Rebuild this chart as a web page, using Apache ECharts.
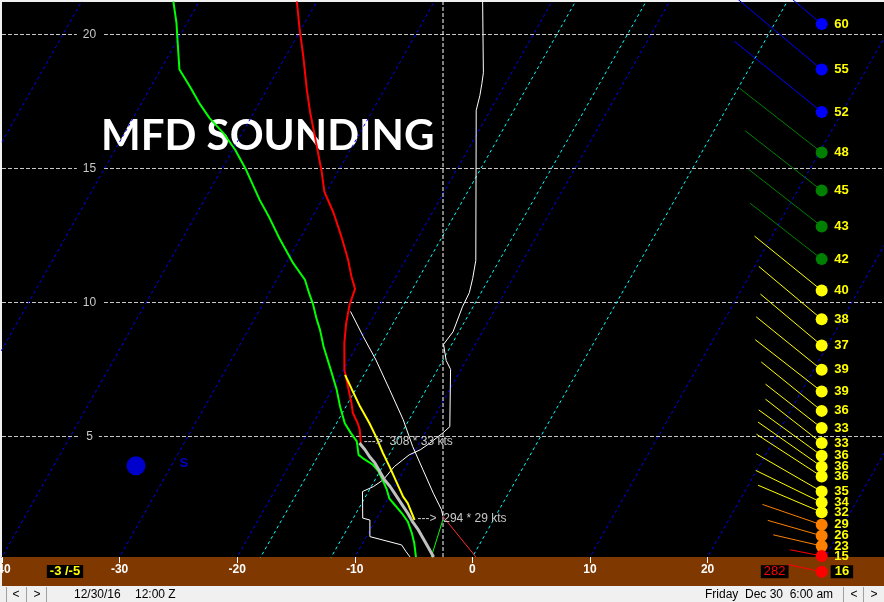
<!DOCTYPE html>
<html><head><meta charset="utf-8">
<script src="https://cdn.jsdelivr.net/npm/echarts@6/dist/echarts.min.js"></script>
<style>html,body{margin:0;padding:0;background:#f0f0f0;overflow:hidden}#c{width:884px;height:602px}</style>
</head><body><div id="c"></div>
<script>
// ---------------- data (T in °C, height in kft) ----------------
const xTickValues = [-40, -30, -20, -10, 0, 10, 20, 30];
const heightTicks = [5, 10, 15, 20];
const isothermsBlue = [-60, -50, -40, -30, -20, -10, 10, 20, 30];
const isothermsCyan = [-18, -12, 0];
const refLineX = -2.5;

const temperature = [[-41.7,21.22],[-40.1,20.17],[-38.5,19.17],[-36.6,17.93],[-35.2,17.07],[-34.1,16.44],[-32.8,15.69],[-31.4,14.88],[-30.2,14.13],[-28.4,13.34],[-26.6,12.46],[-24.9,11.59],[-23.8,10.96],[-22.9,10.50],[-22.6,9.91],[-22.0,9.22],[-21.2,8.48],[-19.9,7.48],[-18.8,6.86],[-17.7,6.24],[-17.1,5.87],[-16.2,5.49],[-15.7,5.24],[-15.0,4.76]];
const lowTemperature = [[-15.1,4.75],[-14.3,4.50],[-13.6,4.25],[-12.8,4.00],[-12.0,3.69],[-11.2,3.38],[-10.4,3.13],[-9.7,2.88],[-9.0,2.63],[-8.3,2.38],[-7.6,2.13],[-6.8,1.82],[-5.9,1.51],[-5.1,1.20],[-4.3,0.89],[-3.3,0.50]];
const yellowTrace = [[-19.6,7.29],[-18.3,6.74],[-16.8,6.11],[-15.2,5.49],[-14.0,4.99],[-12.6,4.37],[-11.4,3.87],[-10.1,3.31],[-8.8,2.75],[-8.1,2.51],[-6.7,1.88]];
const dewpoint = [[-52.2,21.22],[-50.9,20.42],[-50.0,19.79],[-48.4,18.68],[-46.7,18.05],[-45.1,17.43],[-43.5,16.87],[-41.6,16.31],[-39.8,15.69],[-37.9,14.94],[-35.3,13.82],[-33.6,13.15],[-31.8,12.40],[-29.4,11.46],[-27.6,10.84],[-26.6,10.34],[-25.7,9.91],[-24.8,9.42],[-23.9,8.97],[-22.8,8.35],[-21.3,7.60],[-19.6,6.74],[-18.5,6.11],[-17.3,5.49],[-16.3,5.12],[-15.4,4.81],[-15.2,4.75],[-14.6,4.31],[-14.1,4.19],[-12.9,3.94],[-12.1,3.69],[-11.2,3.31],[-10.5,3.00],[-9.9,2.69],[-9.1,2.44],[-8.1,2.13],[-7.2,1.82],[-6.3,1.39],[-5.6,1.01],[-4.8,0.50]];
const whiteTraceA = [[-25.9,21.22],[-22.4,18.56],[-22.0,18.15],[-21.6,17.71],[-21.2,17.16],[-14.0,11.56],[-13.4,10.89],[-13.0,10.36],[-12.9,9.83],[-12.5,8.90],[-12.7,8.43],[-11.7,7.83],[-10.9,7.50],[-8.2,5.36],[-8.5,5.12],[-9.1,4.75],[-9.6,4.50],[-10.3,4.31],[-10.6,4.12],[-11.0,3.87],[-11.3,3.38],[-11.8,3.13],[-12.5,2.94],[-11.2,1.95],[-10.5,1.88],[-9.7,1.26],[-6.6,0.95],[-5.9,0.70],[-5.3,0.50]];
const whiteTraceB = [[-22.2,9.66],[-19.9,8.72],[-17.7,7.85],[-15.1,6.74],[-12.5,5.62],[-10.4,4.62],[-8.4,3.75],[-6.4,2.88],[-4.9,2.26],[-4.45,2.01]];
const sfcLayerT = [[-4.45,2.01],[0.3,0.50]];
const sfcLayerTd = [[-4.3,1.88],[-3.5,0.50]];

const windHeights = [20.38,18.68,17.10,15.59,14.17,12.83,11.61,10.44,9.37,8.39,7.48,6.67,5.95,5.31,4.75,4.28,3.87,3.50,2.94,2.53,2.17,1.70,1.29,0.91,0.54,-0.05];
const windDirs    = [310,310,309,308,308,308,308,309,310,310,309,308,309,308,308,306,305,303,300,296,293,289,286,283,281,282];
const windSpeeds  = [60,55,52,48,45,43,42,40,38,37,39,39,36,33,33,36,36,36,35,34,32,29,26,23,15,16];

const noteLevels = [{anchor: temperature[temperature.length-1], dir: 308, spd: 33},
                    {anchor: yellowTrace[yellowTrace.length-1], dir: 294, spd: 29}];
const stormMarker = [-33.0, 3.9];
const surfaceT = -3, surfaceTd = -5;
const titleText = 'MFD SOUNDING';
const dateLeft = ['12/30/16', '12:00 Z'];
const dateRight = ['Friday', 'Dec 30  6:00 am'];

// ---------------- layout / style ----------------
const FONT = '"Liberation Sans", Arial, sans-serif';
const SKEW = 1.292, H0 = 0.5, HTOP = 21.2, BARB_X = 29.7, BARB_PX_PER_KT = 2.16;
const sk = p => [p[0] + SKEW * (p[1] - H0), p[1]];

function profile(pts, color, width, z) {
  return {type: 'line', data: pts.map(sk), symbol: 'none', showSymbol: false,
          lineStyle: {color, width}, z, silent: true, clip: true};
}
function isotherm(T, color) {
  return {type: 'line', data: [sk([T, H0 - 0.1]), sk([T, HTOP + 2])], symbol: 'none', showSymbol: false,
          lineStyle: {color, width: 1, type: [3, 3]}, z: 2, silent: true, clip: true};
}
function barbColor(s) {
  if (s >= 50) return '#0000ff';
  if (s > 40) return '#008000';
  if (s >= 30) return '#ffff00';
  if (s >= 20) return '#ff8000';
  return '#ff0000';
}

const series = [];
isothermsBlue.forEach(T => series.push(isotherm(T, '#0000ff')));
isothermsCyan.forEach(T => series.push(isotherm(T, '#00ffff')));

// height grid lines + labels
series.push({
  type: 'custom', coordinateSystem: 'cartesian2d', z: 2, silent: true,
  data: heightTicks.map(h => [0, h]),
  renderItem(params, api) {
    const cs = params.coordSys;
    const y = Math.round(api.coord([0, api.value(1)])[1]) + 0.5;
    return {type: 'group', children: [
      {type: 'line', shape: {x1: cs.x, y1: y, x2: cs.x + cs.width, y2: y},
       style: {stroke: '#c8c8c8', lineWidth: 1, lineDash: [4, 2]}},
      {type: 'text', x: cs.x + 87.5, y: y,
       style: {text: String(api.value(1)), fill: '#c8c8c8', fontSize: 12, fontFamily: FONT,
               align: 'center', verticalAlign: 'middle', backgroundColor: '#000', padding: [1, 6]}}
    ]};
  }
});
// vertical reference line
series.push({type: 'line', data: [[refLineX, H0], [refLineX, HTOP]], symbol: 'none', showSymbol: false,
  lineStyle: {color: '#ffffff', width: 1, type: [4, 2]}, z: 2, silent: true});

series.push(profile(whiteTraceA, '#ffffff', 1, 3));
series.push(profile(whiteTraceB, '#ffffff', 1, 3));
series.push(profile(sfcLayerT, '#ff3030', 1, 3));
series.push(profile(sfcLayerTd, '#00ff00', 1, 3));
series.push(profile(dewpoint, '#00ff00', 2, 4));
series.push(profile(temperature, '#ff0000', 2, 4));
series.push(profile(lowTemperature, '#c0c0c0', 3, 4));
series.push(profile(yellowTrace, '#ffff00', 2, 4));

// storm marker
series.push({type: 'scatter', data: [sk(stormMarker)], symbolSize: 19, z: 4, silent: true,
  itemStyle: {color: '#0000ff'},
  label: {show: true, formatter: 'S', position: 'right', distance: 34, offset: [0, -2],
          color: '#0000ff', fontWeight: 'bold', fontSize: 13, fontFamily: FONT}});

// wind notes
series.push({
  type: 'custom', coordinateSystem: 'cartesian2d', z: 5, silent: true,
  data: noteLevels.map(n => { const p = sk(n.anchor); return [p[0], p[1], n.dir, n.spd]; }),
  renderItem(params, api) {
    const p = api.coord([api.value(0), api.value(1)]);
    return {type: 'text', x: p[0] + 3, y: p[1] - 1,
      style: {text: '--->  ' + api.value(2) + ' * ' + api.value(3) + ' kts', fill: '#c8c8c8',
              fontSize: 12, fontFamily: FONT, align: 'left', verticalAlign: 'middle'}};
  }
});

// wind barbs
series.push({
  type: 'custom', coordinateSystem: 'cartesian2d', z: 6, silent: true, clip: false,
  data: windHeights.map((h, i) => [BARB_X, h, windDirs[i], windSpeeds[i]]),
  renderItem(params, api) {
    const p = api.coord([api.value(0), api.value(1)]);
    const dir = api.value(2), spd = api.value(3);
    const a = (dir - 270) * Math.PI / 180, L = spd * BARB_PX_PER_KT;
    const col = barbColor(spd);
    const sfc = params.dataIndex === windHeights.length - 1;
    const ch = [
      {type: 'line', shape: {x1: p[0], y1: p[1], x2: p[0] - L * Math.cos(a), y2: p[1] - L * Math.sin(a)},
       style: {stroke: col, lineWidth: 1}},
      {type: 'circle', shape: {cx: p[0], cy: p[1], r: 6}, style: {fill: col}},
      {type: 'text', x: sfc ? p[0] + 9 : p[0] + 12.5, y: p[1],
       style: {text: String(spd), fill: '#ffff00', fontSize: 13, fontWeight: 'bold', fontFamily: FONT,
               align: 'left', verticalAlign: 'middle',
               backgroundColor: sfc ? '#000' : 'transparent', padding: sfc ? [0, 4] : 0, lineHeight: 13}}
    ];
    if (sfc) {
      ch.push({type: 'text', x: p[0] - 47, y: p[1],
        style: {text: String(dir), fill: '#ff0000', fontSize: 13, fontFamily: FONT,
                align: 'center', verticalAlign: 'middle', backgroundColor: '#000', padding: [0, 3], lineHeight: 13}});
    }
    return {type: 'group', children: ch};
  }
});

const chart = echarts.init(document.getElementById('c'), null, {renderer: 'canvas', width: 884, height: 602});
chart.setOption({
  animation: false,
  backgroundColor: '#f0f0f0',
  grid: {left: 2, right: 0, top: 2, bottom: 45, show: true, backgroundColor: '#000', borderWidth: 0,
         containLabel: false, outerBoundsMode: 'none'},
  xAxis: {type: 'value', min: -40, max: 35, interval: 10, z: 3,
    axisLine: {show: false}, splitLine: {show: false},
    axisTick: {show: true, length: 6, lineStyle: {color: '#ffffff', width: 1}, customValues: xTickValues},
    axisLabel: {color: '#ffffff', fontWeight: 'bold', fontSize: 12, fontFamily: FONT, margin: 7,
                customValues: xTickValues, showMaxLabel: false}},
  yAxis: {type: 'value', min: H0, max: HTOP, show: false},
  graphic: [
    {type: 'rect', shape: {x: 2, y: 557, width: 882, height: 29}, style: {fill: '#7f3800'}, z: -5, silent: true},
    {type: 'rect', shape: {x: 0, y: 586, width: 884, height: 16}, style: {fill: '#f0f0f0'}, z: 10, silent: true},
    {type: 'text', x: 101, y: 136, z: 1, silent: true,
     style: {text: titleText, fill: '#ffffff', fontSize: 42, fontWeight: 'bold', fontFamily: 'Lato', verticalAlign: 'middle'}},
    {type: 'text', x: 65, y: 571.5, z: 10, silent: true,
     style: {text: surfaceT + ' /' + surfaceTd, fill: '#ffff00', fontSize: 13, fontWeight: 'bold', fontFamily: FONT,
             align: 'center', verticalAlign: 'middle', backgroundColor: '#000', padding: [0, 3], lineHeight: 13}},
    {type: 'line', shape: {x1: 6.5, y1: 587, x2: 6.5, y2: 602}, style: {stroke: '#a0a0a0'}, z: 11},
    {type: 'line', shape: {x1: 26.5, y1: 587, x2: 26.5, y2: 602}, style: {stroke: '#a0a0a0'}, z: 11},
    {type: 'line', shape: {x1: 46.5, y1: 587, x2: 46.5, y2: 602}, style: {stroke: '#a0a0a0'}, z: 11},
    {type: 'line', shape: {x1: 843.5, y1: 587, x2: 843.5, y2: 602}, style: {stroke: '#a0a0a0'}, z: 11},
    {type: 'line', shape: {x1: 863.5, y1: 587, x2: 863.5, y2: 602}, style: {stroke: '#a0a0a0'}, z: 11},
    {type: 'text', x: 16, y: 595, z: 11, style: {text: '<', fill: '#000', fontSize: 12, fontFamily: FONT, align: 'center', verticalAlign: 'middle'}},
    {type: 'text', x: 37, y: 595, z: 11, style: {text: '>', fill: '#000', fontSize: 12, fontFamily: FONT, align: 'center', verticalAlign: 'middle'}},
    {type: 'text', x: 854, y: 595, z: 11, style: {text: '<', fill: '#000', fontSize: 12, fontFamily: FONT, align: 'center', verticalAlign: 'middle'}},
    {type: 'text', x: 874, y: 595, z: 11, style: {text: '>', fill: '#000', fontSize: 12, fontFamily: FONT, align: 'center', verticalAlign: 'middle'}},
    {type: 'text', x: 74, y: 595, z: 11, style: {text: dateLeft[0], fill: '#000', fontSize: 12, fontFamily: FONT, verticalAlign: 'middle'}},
    {type: 'text', x: 135, y: 595, z: 11, style: {text: dateLeft[1], fill: '#000', fontSize: 12, fontFamily: FONT, verticalAlign: 'middle'}},
    {type: 'text', x: 705, y: 595, z: 11, style: {text: dateRight[0], fill: '#000', fontSize: 12, fontFamily: FONT, verticalAlign: 'middle'}},
    {type: 'text', x: 745, y: 595, z: 11, style: {text: dateRight[1], fill: '#000', fontSize: 12, fontFamily: FONT, verticalAlign: 'middle'}}
  ],
  series
});
</script></body></html>
